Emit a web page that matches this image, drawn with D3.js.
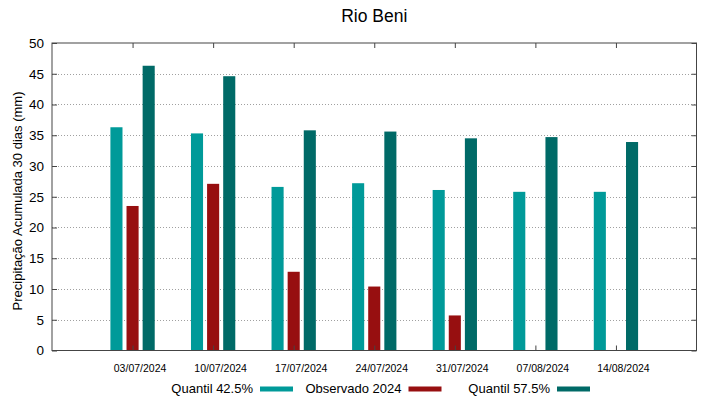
<!DOCTYPE html>
<html>
<head>
<meta charset="utf-8">
<script src="https://cdn.jsdelivr.net/npm/d3@7"></script>
<style>
  body { margin: 0; background: #fff; }
  text { font-family: "Liberation Sans", Arial, sans-serif; fill: #000; }
</style>
</head>
<body>
<div id="chart"></div>
<script>
let width = 719;
let height = 399;
let margin = ({top: 43, right: 22.5, bottom: 48.5, left: 52});

// Data
let dates = ["03/07/2024", "10/07/2024", "17/07/2024", "24/07/2024", "31/07/2024", "07/08/2024", "14/08/2024"];
let quantil425 = [36.3, 35.3, 26.6, 27.2, 26.1, 25.8, 25.8];
let observado = [23.5, 27.1, 12.8, 10.4, 5.7, null, null];
let quantil575 = [46.3, 44.6, 35.8, 35.6, 34.5, 34.7, 33.9];
let yTicks = [0, 5, 10, 15, 20, 25, 30, 35, 40, 45, 50];

let seriesNames = ["Quantil 42.5%", "Observado 2024", "Quantil 57.5%"];
let seriesValues = [quantil425, observado, quantil575];
let colors = ["#009a99", "#970f10", "#006a67"];

let svg = d3.select("#chart")
    .append("svg")
    .attr("width", width)
    .attr("height", height);

// x is positional: category i sits at i+1 on a 0..8 domain
let xScale = d3.scaleLinear()
    .domain([0, dates.length + 1])
    .range([margin.left, width - margin.right]);

let yScale = d3.scaleLinear()
    .domain([0, 50])
    .range([height - margin.bottom, margin.top]);

let plotLeft = margin.left, plotRight = width - margin.right;
let plotTop = margin.top, plotBottom = height - margin.bottom;

// dotted grid
svg.append("g")
    .selectAll("line")
    .data(yTicks.filter(d => d > 0 && d < 50))
    .enter().append("line")
    .attr("x1", plotLeft)
    .attr("x2", plotRight)
    .attr("y1", d => Math.round(yScale(d)) + 0.5)
    .attr("y2", d => Math.round(yScale(d)) + 0.5)
    .attr("stroke", "#a0a0a0")
    .attr("stroke-width", 1)
    .attr("stroke-dasharray", "1,2");

// bars
let offset = 0.2, boxWidth = 0.15;
seriesValues.forEach((vals, s) => {
    svg.append("g")
        .selectAll("rect")
        .data(vals.map((v, i) => ({v: v, i: i})).filter(d => d.v != null))
        .enter().append("rect")
        .attr("x", d => xScale(d.i + 1 + (s - 1) * offset - boxWidth / 2))
        .attr("width", d => xScale(boxWidth) - xScale(0))
        .attr("y", d => yScale(d.v))
        .attr("height", d => yScale(0) - yScale(d.v))
        .attr("fill", colors[s]);
});

// axes (gnuplot style: inward ticks, mirrored)
let tickLen = 5;
let yLeft = d3.axisLeft(yScale).tickValues(yTicks).tickSize(-tickLen).tickPadding(8);
let yRight = d3.axisRight(yScale).tickValues(yTicks).tickSize(-tickLen).tickFormat("");
let xBottom = d3.axisBottom(xScale).tickValues(d3.range(1, dates.length + 1))
    .tickSize(-tickLen).tickPadding(14).tickFormat(d => dates[d - 1]);
let xTop = d3.axisTop(xScale).tickValues(d3.range(1, dates.length + 1))
    .tickSize(-tickLen).tickFormat("");

let gyl = svg.append("g").attr("transform", `translate(${plotLeft},0)`).call(yLeft);
gyl.selectAll("text").style("font-size", "13.5px");
svg.append("g").attr("transform", `translate(${plotRight},0)`).call(yRight);
let gxb = svg.append("g").attr("transform", `translate(0,${plotBottom})`).call(xBottom);
gxb.selectAll("text").style("font-size", "10.5px").attr("dx", 7);
svg.append("g").attr("transform", `translate(0,${plotTop})`).call(xTop);

svg.selectAll(".domain").remove();
svg.selectAll(".tick line").attr("stroke", "#444");

// border
svg.append("rect")
    .attr("x", plotLeft)
    .attr("y", plotTop)
    .attr("width", plotRight - plotLeft)
    .attr("height", plotBottom - plotTop)
    .attr("fill", "none")
    .attr("stroke", "#444")
    .attr("stroke-width", 1);

// title
svg.append("text")
    .attr("x", (plotLeft + plotRight) / 2)
    .attr("y", 22)
    .attr("text-anchor", "middle")
    .style("font-size", "17.5px")
    .text("Rio Beni");

// y label
svg.append("text")
    .attr("transform", "translate(22," + 201 + ") rotate(-90)")
    .attr("text-anchor", "middle")
    .style("font-size", "13px")
    .text("Precipitação Acumulada 30 dias (mm)");

// legend
let legend = svg.append("g");
seriesNames.forEach((name, i) => {
    let xr = 253 + i * 148.5;
    legend.append("text")
        .attr("x", xr)
        .attr("y", 393)
        .attr("text-anchor", "end")
        .style("font-size", "13px")
        .text(name);
    legend.append("rect")
        .attr("x", xr + 7)
        .attr("y", 386.5)
        .attr("width", 33)
        .attr("height", 5)
        .attr("fill", colors[i]);
});
</script>
</body>
</html>
